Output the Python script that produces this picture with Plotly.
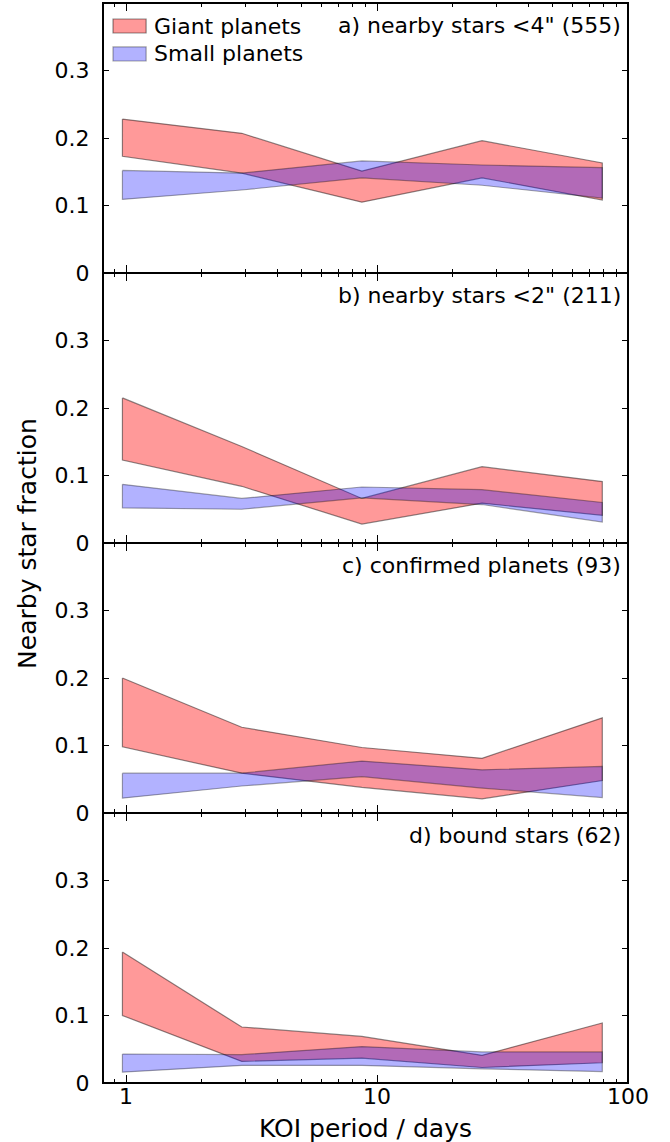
import plotly.graph_objects as go
from plotly.subplots import make_subplots

# KOI period bin centres (days)
periods = [0.967, 2.89, 8.7, 26.2, 79.0]

# Nearby-star fraction confidence bands per panel: (upper, lower)
giant_hi_a = [0.228, 0.207, 0.151, 0.196, 0.163]
giant_lo_a = [0.173, 0.148, 0.105, 0.141, 0.108]
small_hi_a = [0.152, 0.148, 0.166, 0.160, 0.156]
small_lo_a = [0.109, 0.123, 0.141, 0.130, 0.111]

giant_hi_b = [0.215, 0.143, 0.066, 0.113, 0.091]
giant_lo_b = [0.123, 0.084, 0.028, 0.059, 0.041]
small_hi_b = [0.087, 0.066, 0.083, 0.079, 0.060]
small_lo_b = [0.052, 0.050, 0.067, 0.057, 0.031]

giant_hi_c = [0.200, 0.127, 0.097, 0.081, 0.141]
giant_lo_c = [0.098, 0.059, 0.038, 0.021, 0.048]
small_hi_c = [0.059, 0.059, 0.077, 0.064, 0.069]
small_lo_c = [0.022, 0.040, 0.054, 0.037, 0.023]

giant_hi_d = [0.194, 0.083, 0.069, 0.041, 0.089]
giant_lo_d = [0.100, 0.032, 0.037, 0.023, 0.030]
small_hi_d = [0.043, 0.042, 0.054, 0.046, 0.046]
small_lo_d = [0.016, 0.026, 0.026, 0.021, 0.017]

panel_labels = [
    'a) nearby stars <4" (555)',
    'b) nearby stars <2" (211)',
    'c) confirmed planets (93)',
    'd) bound stars (62)',
]
panels = [
    (giant_hi_a, giant_lo_a, small_hi_a, small_lo_a),
    (giant_hi_b, giant_lo_b, small_hi_b, small_lo_b),
    (giant_hi_c, giant_lo_c, small_hi_c, small_lo_c),
    (giant_hi_d, giant_lo_d, small_hi_d, small_lo_d),
]

series_names = ["Giant planets", "Small planets"]
series_fill = ["rgba(255,0,0,0.4)", "rgba(0,0,255,0.3)"]
series_edge = ["rgba(0,0,0,0.45)", "rgba(0,0,0,0.35)"]

y_ticks = [0, 0.1, 0.2, 0.3]
y_ticktext = ["0", "0.1", "0.2", "0.3"]
x_major = [1, 10, 100]
x_minor = [0.9] + [k for k in range(2, 10)] + [10 * k for k in range(2, 10)]

FONT = "DejaVu Sans"

fig = make_subplots(rows=4, cols=1, shared_xaxes=True, vertical_spacing=0)


def band(hi, lo, k):
    return go.Scatter(
        x=periods + periods[::-1] + [periods[0]],
        y=hi + lo[::-1] + [hi[0]],
        mode="lines",
        fill="toself",
        fillcolor=series_fill[k],
        line=dict(color=series_edge[k], width=1.2),
        name=series_names[k],
        showlegend=False,
        hoverinfo="skip",
    )


for i, (ghi, glo, shi, slo) in enumerate(panels):
    r = i + 1
    fig.add_trace(band(ghi, glo, 0), row=r, col=1)
    fig.add_trace(band(shi, slo, 1), row=r, col=1)
    fig.add_annotation(
        text=panel_labels[i], xref="x domain", yref="y domain",
        x=0.991, y=0.915, xanchor="right", yanchor="middle", showarrow=False,
        font=dict(family=FONT, size=22, color="black"), row=r, col=1,
    )
    fig.update_yaxes(
        range=[0, 0.4], tickvals=y_ticks, ticktext=y_ticktext,
        ticks="inside", ticklen=6, tickwidth=1.2, tickcolor="black",
        showline=True, linecolor="black", linewidth=1, mirror="ticks",
        showgrid=False, zeroline=False, ticklabelstandoff=8,
        tickfont=dict(family=FONT, size=22, color="black"),
        row=r, col=1,
    )
    fig.update_xaxes(
        type="log", range=[-0.092, 2.0], tickvals=x_major,
        ticktext=["1", "10", "100"],
        ticks="inside", ticklen=8, tickwidth=1.2, tickcolor="black",
        minor=dict(tickvals=x_minor, ticks="inside", ticklen=4,
                   tickwidth=1.0, tickcolor="black", showgrid=False),
        showline=True, linecolor="black", linewidth=1, mirror="ticks",
        showgrid=False, zeroline=False, ticklabelstandoff=-6,
        tickfont=dict(family=FONT, size=22, color="black"),
        row=r, col=1,
    )

# outer frame around the stacked panels
fig.add_shape(type="rect", xref="paper", yref="paper", x0=0, x1=1, y0=0, y1=1,
              line=dict(color="black", width=2), fillcolor="rgba(0,0,0,0)",
              layer="above")

# legend patches and labels in the top-left corner of panel a
legend_rows = [(0.9722, 0.9852, 0.9787), (0.9463, 0.9593, 0.9528)]
for k, (y0, y1, yt) in enumerate(legend_rows):
    fig.add_shape(type="rect", xref="paper", yref="paper",
                  x0=0.0191, x1=0.0821, y0=y0, y1=y1,
                  fillcolor=series_fill[k],
                  line=dict(color=series_edge[k], width=1.2))
    fig.add_annotation(
        text=series_names[k], xref="paper", yref="paper",
        x=0.0935, y=yt, xanchor="left", yanchor="middle", showarrow=False,
        font=dict(family=FONT, size=22, color="black"),
    )

fig.add_annotation(
    text="KOI period / days", xref="paper", yref="paper",
    x=0.5, y=-0.0419, xanchor="center", yanchor="middle", showarrow=False,
    font=dict(family=FONT, size=25, color="black"),
)
fig.add_annotation(
    text="Nearby star fraction", xref="paper", yref="paper",
    x=-0.145, y=0.5, xanchor="center", yanchor="middle", showarrow=False,
    textangle=-90, font=dict(family=FONT, size=25, color="black"),
)

fig.update_layout(
    width=670, height=1142,
    margin=dict(l=103, r=42, t=3, b=59),
    plot_bgcolor="white", paper_bgcolor="white",
    showlegend=False,
)

fig.write_html("out.html")
